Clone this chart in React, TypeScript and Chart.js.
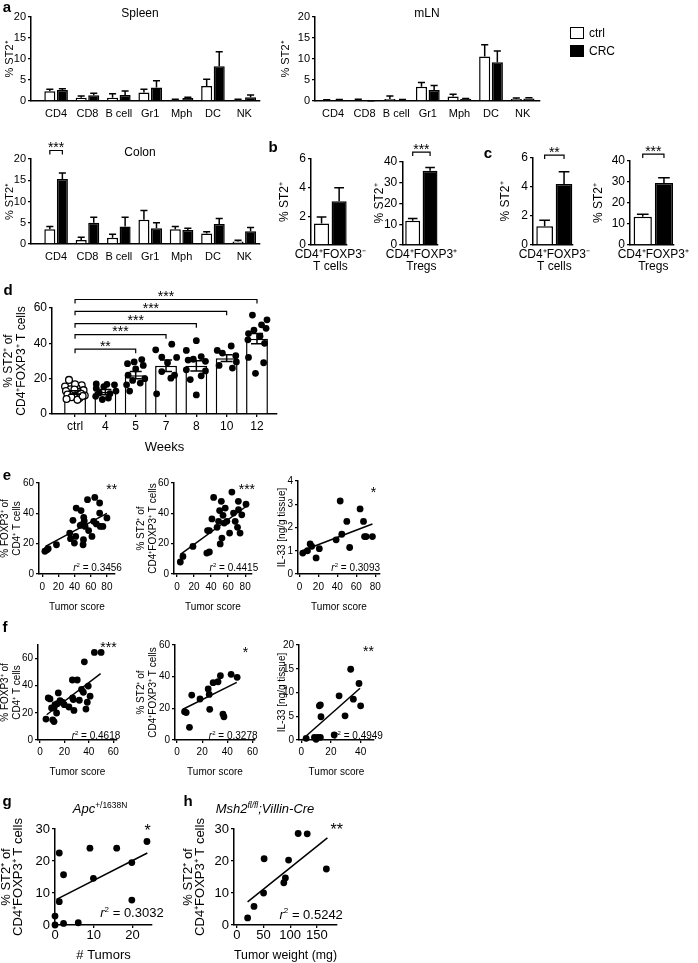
import React, { useEffect, useRef } from 'react';
import { Chart, registerables } from 'chart.js';

Chart.register(...registerables);

const FONT = '"Liberation Sans", Arial, Helvetica, sans-serif';
Chart.defaults.font.family = FONT;
Chart.defaults.font.size = 11;
Chart.defaults.color = '#000';

// ---------------- data ----------------
const cellTypes = ['CD4', 'CD8', 'B cell', 'Gr1', 'Mph', 'DC', 'NK'];

const spleenCtrl = [2.3, 0.8, 0.8, 2.0, 0.3, 3.6, 0.3];
const spleenCtrlErr = [0.5, 0.4, 0.9, 0.8, 0.1, 1.6, 0.1];
const spleenCRC = [2.6, 1.35, 1.4, 3.2, 0.7, 8.3, 0.9];
const spleenCRCErr = [0.3, 0.5, 1.0, 1.6, 0.2, 3.4, 0.5];

const mlnCtrl = [0.2, 0.25, 0.5, 3.4, 1.1, 10.6, 0.5];
const mlnCtrlErr = [0.1, 0.15, 0.7, 1.0, 0.5, 2.8, 0.2];
const mlnCRC = [0.25, 0.05, 0.25, 2.6, 0.5, 9.2, 0.6];
const mlnCRCErr = [0.1, 0.02, 0.1, 1.1, 0.1, 2.7, 0.15];

const colonCtrl = [3.5, 0.95, 1.5, 5.7, 3.5, 2.5, 0.6];
const colonCtrlErr = [0.6, 0.65, 0.8, 2.2, 0.6, 0.4, 0.3];
const colonCRC = [15.3, 5.0, 4.1, 3.7, 3.3, 4.7, 3.0];
const colonCRCErr = [1.4, 1.3, 2.2, 1.3, 0.4, 1.3, 0.9];

const bTconv = [1.5, 3.05];
const bTconvErr = [0.45, 0.95];
const bTreg = [11.7, 35.8];
const bTregErr = [1.1, 1.5];
const cTconv = [1.3, 4.2];
const cTconvErr = [0.4, 0.85];
const cTreg = [13.4, 29.5];
const cTregErr = [1.2, 2.5];

const weekLabels = ['ctrl', '4', '5', '7', '8', '10', '12'];
const weekMean = [12.2, 12.4, 22.0, 27.3, 27.3, 31.6, 42.6];
const weekSem = [1.0, 1.5, 2.0, 3.3, 2.9, 1.9, 2.9];
const ptsCtrl = [19.3, 16.3, 15.5, 14.8, 14, 13.5, 13, 12.5, 12, 11.5, 11, 10.5, 10, 9.5, 9, 8.5, 8, 16.8, 13.8, 10.2];
const dxCtrl = [-0.2, 0.22, -0.33, 0.05, -0.15, 0.28, -0.3, 0.1, -0.05, 0.2, -0.25, 0.32, 0.0, -0.12, 0.15, -0.28, 0.08, 0.0, -0.02, 0.25];
const ptsW4 = [17, 16.8, 16.5, 15.5, 14.5, 13, 12, 11.5, 10, 9, 8.2];
const dxW4 = [-0.3, 0.05, 0.3, -0.05, -0.3, 0.35, -0.2, 0.15, -0.32, 0.1, -0.1];
const ptsW5 = [30.8, 29.5, 28.5, 27.5, 25.5, 22, 20, 19, 17.5, 16.5, 13];
const dxW5 = [0.2, -0.05, -0.27, 0.25, 0.0, -0.25, 0.3, -0.1, 0.15, -0.3, -0.2];
const ptsW7 = [39.5, 36.3, 32.2, 32, 29, 24, 22, 20.3, 11.4];
const dxW7 = [0.19, -0.34, -0.14, 0.35, 0.05, -0.14, 0.28, 0.16, -0.31];
const ptsW8 = [41.5, 36, 32.5, 31, 30.5, 29.8, 25, 24.4, 21.6, 19.5, 10.8];
const dxW8 = [0, -0.33, 0.16, -0.1, -0.27, 0.3, -0.33, 0.3, 0.16, -0.2, 0];
const ptsW10 = [38.5, 36, 34.5, 33, 29.5, 27.5, 26];
const dxW10 = [0.15, -0.31, -0.14, 0.3, 0.32, -0.25, 0.19];
const ptsW12 = [56, 53.3, 50.5, 48.5, 47.5, 45.5, 44, 42, 40, 32, 29, 23];
const dxW12 = [-0.15, 0.33, 0.15, 0.3, -0.1, -0.28, 0.1, -0.3, 0.25, -0.28, 0.22, -0.05];

const e1X = [3.3, 6, 7.4, 17.6, 34, 35, 38, 39.8, 41.4, 42, 48, 47, 49, 50.5, 51, 51.3, 52, 53, 56, 57.4, 61.5, 63.6, 65, 67, 71, 71, 71.8, 75, 80];
const e1Y = [15, 16, 16.7, 19.3, 27, 23.3, 35.4, 20.4, 24.8, 43.5, 41.8, 32, 32.5, 19.3, 22.6, 37.4, 35, 31.4, 49, 28.6, 24.8, 34.7, 50.5, 33, 46.8, 40.2, 31.4, 31.4, 37];
const e1Fit = [4, 18.2, 80, 40];
const e2X = [3.9, 7, 18.7, 35, 35.9, 38, 38, 41, 43, 47, 48.8, 50, 50.7, 52, 52.7, 54, 55.4, 56.6, 58.5, 61.7, 64.4, 66.3, 68.3, 71, 72, 72.2, 74, 76, 81];
const e2Y = [7.9, 11.6, 18.2, 13.8, 28.6, 14.5, 28.6, 36.3, 50.5, 30.8, 34.7, 41.8, 19.8, 47.9, 23.7, 38.7, 33.6, 43.5, 34.7, 27, 54, 40.2, 34.7, 30.8, 47.9, 42.4, 27, 39, 46];
const e2Fit = [4, 13, 81, 44.5];
const e3X = [3.5, 8.5, 11.3, 13, 17.6, 21, 38.7, 43, 44.7, 50, 53, 64, 67.6, 68.7, 70.4, 77];
const e3Y = [0.9, 1.0, 1.29, 1.19, 0.69, 1.09, 1.47, 3.14, 1.71, 2.26, 1.14, 2.8, 2.26, 1.61, 1.61, 1.61];
const e3Fit = [3, 1.0, 77, 2.15];

const f1X = [4.9, 6.8, 8.2, 9.5, 10.4, 11.5, 11.5, 12.3, 13.6, 14.2, 15, 16.4, 18.3, 19.9, 23.7, 26.5, 26.7, 27.3, 27.8, 30.5, 32.2, 34, 35.5, 36.3, 37.6, 38.7, 39.5, 41, 44.5, 50];
const f1Y = [15.4, 31, 30.3, 23.6, 14.9, 13.6, 23.6, 26, 19.9, 26.8, 34.7, 29, 27.8, 26, 24.3, 44.2, 31, 29.8, 21.8, 44.2, 29.3, 37.2, 35.2, 57.6, 22.8, 27.8, 39.7, 32.3, 64.5, 64.5];
const f1Fit = [5.5, 18.6, 49.6, 48.9];
const f2X = [6, 7.3, 9.9, 11.7, 18.3, 24.8, 25.6, 26, 28.7, 32.6, 34.5, 36.5, 37.3, 43, 47.8];
const f2Y = [17.9, 17.3, 8, 28.4, 25.9, 32.2, 28.8, 19.4, 36.2, 36.8, 40.6, 16.4, 14.7, 41.5, 39.6];
const f2Fit = [4.7, 19.4, 47.5, 36.4];
const f3X = [3.3, 8.9, 10, 11.1, 12.2, 12.9, 13.3, 12.9, 22.2, 25.5, 29.5, 33.3, 35.1, 38.9, 40];
const f3Y = [0.35, 0.56, 0.14, 0.56, 7.2, 7.4, 4.9, 0.56, 1.05, 9.3, 5.1, 14.9, 8.6, 11.9, 7.2];
const f3Fit = [3.3, 0.84, 39.6, 10.9];

const gX = [0, 0, 1.1, 1.1, 2.2, 2.2, 6, 9, 9.9, 15.9, 19.8, 19.8, 23.7];
const gY = [2.8, 0, 22.5, 7.3, 15.7, 0.5, 0.7, 24, 14.6, 24, 19.5, 7.8, 26.1];
const gFit = [0.4, 8, 23.8, 22.5];
const hX = [20, 32, 50, 51, 88, 91, 97, 115, 132, 168];
const hY = [2.2, 5.8, 10, 20.7, 13.2, 14.7, 20.3, 28.6, 28.5, 17.5];
const hFit = [20, 7.2, 170, 27.2];

// ---------------- helpers ----------------
type Seg = { t: string; italic?: boolean; sup?: boolean };
type Note = { x: number; y: number; parts: Seg[]; align: 'left' | 'right' | 'center'; size: number };
type Bracket = { from: [number, number]; to: [number, number]; y: number; label: string };

const PT = 30;
const PR = 26;

const bars = (vals: number[]) => vals.map((y, i) => ({ x: i, y }));
const pts = (xs: number[], ys: number[]) => xs.map((x, i) => ({ x, y: ys[i] }));
const jitter = (g: number, ys: number[], dx: number[]) => ys.map((y, i) => ({ x: g + dx[i], y }));

function drawRich(ctx: CanvasRenderingContext2D, segs: Seg[], x: number, y: number, align: string, size: number) {
  const fontFor = (s: Seg) => `${s.italic ? 'italic ' : ''}${s.sup ? Math.round(size * 0.62) : size}px ${FONT}`;
  let total = 0;
  for (const s of segs) {
    ctx.font = fontFor(s);
    total += ctx.measureText(s.t).width;
  }
  let cx = align === 'right' ? x - total : align === 'center' ? x - total / 2 : x;
  ctx.textAlign = 'left';
  ctx.textBaseline = 'alphabetic';
  for (const s of segs) {
    ctx.font = fontFor(s);
    ctx.fillText(s.t, cx, s.sup ? y - size * 0.42 : y);
    cx += ctx.measureText(s.t).width;
  }
}

const errorBarPlugin = {
  id: 'errbars',
  afterDatasetsDraw(chart: any) {
    const ys = chart.scales.y;
    const ctx = chart.ctx;
    chart.data.datasets.forEach((ds: any, di: number) => {
      if (!ds.errors) return;
      const meta = chart.getDatasetMeta(di);
      ctx.save();
      ctx.strokeStyle = '#000';
      ctx.lineWidth = 1.5;
      meta.data.forEach((el: any, i: number) => {
        const v = ds.data[i].y;
        const e = ds.errors[i];
        const x = el.x;
        const cap = ds.errorCap ?? el.width * 0.32;
        const yt = ys.getPixelForValue(v + e);
        const yb = ys.getPixelForValue(ds.errorBoth ? v - e : v);
        ctx.beginPath();
        ctx.moveTo(x, yb);
        ctx.lineTo(x, yt);
        ctx.moveTo(x - cap, yt);
        ctx.lineTo(x + cap, yt);
        if (ds.errorBoth) {
          ctx.moveTo(x - cap, yb);
          ctx.lineTo(x + cap, yb);
        }
        ctx.stroke();
      });
      ctx.restore();
    });
  },
};

function annotPlugin(p: any) {
  return {
    id: 'annot',
    afterDraw(chart: any) {
      const ctx = chart.ctx;
      const xs = chart.scales.x;
      const ys = chart.scales.y;
      ctx.save();
      ctx.fillStyle = '#000';
      ctx.strokeStyle = '#000';
      ctx.lineWidth = 1.2;
      for (const b of (p.brackets ?? []) as Bracket[]) {
        const e1 = chart.getDatasetMeta(b.from[0]).data[b.from[1]];
        const e2 = chart.getDatasetMeta(b.to[0]).data[b.to[1]];
        const y = ys.getPixelForValue(b.y);
        ctx.beginPath();
        ctx.moveTo(e1.x, y + 4);
        ctx.lineTo(e1.x, y);
        ctx.lineTo(e2.x, y);
        ctx.lineTo(e2.x, y + 4);
        ctx.stroke();
        drawRich(ctx, [{ t: b.label }], (e1.x + e2.x) / 2, y + 1.5, 'center', 14);
      }
      for (const n of (p.notes ?? []) as Note[]) {
        drawRich(ctx, n.parts, xs.getPixelForValue(n.x), ys.getPixelForValue(n.y), n.align, n.size);
      }
      ctx.restore();
    },
  };
}

function geometry(p: any) {
  const multi = Array.isArray(p.yTitle) && p.yTitle.length > 1;
  const yLHpx = multi ? p.yTitleGap : 1.2 * p.fs;
  const left = Math.round(p.yTitleX - yLHpx / 2);
  const top = p.T - PT;
  const xtSize = p.xTitleSize ?? p.fs;
  const XH = p.xTitle ? Math.round(p.xTitleY + 0.6 * xtSize - p.B) : p.xh;
  return {
    left,
    top,
    YW: p.L - left,
    XH,
    yLH: yLHpx / p.fs,
    width: Math.round(p.R - left + PR),
    height: Math.round(PT + p.B - p.T + XH),
  };
}

function makeConfig(p: any, g: any) {
  const tickFont = { family: FONT, size: p.fs, lineHeight: 1.0 };
  return {
    type: p.kind,
    data: { datasets: p.datasets },
    options: {
      responsive: false,
      maintainAspectRatio: false,
      animation: false,
      devicePixelRatio: 1,
      events: [],
      layout: { padding: { top: PT, right: PR, left: 0, bottom: 0 } },
      plugins: { legend: { display: false }, tooltip: { enabled: false }, title: { display: false } },
      scales: {
        x: {
          type: 'linear',
          position: 'bottom',
          min: p.xMin,
          max: p.xMax,
          offset: false,
          afterBuildTicks: (s: any) => {
            s.ticks = p.xTicks.map((v: number) => ({ value: v }));
          },
          afterFit: (s: any) => {
            s.height = g.XH;
          },
          ticks: {
            autoSkip: false,
            maxRotation: 0,
            minRotation: 0,
            padding: p.xPad,
            font: tickFont,
            color: '#000',
            callback: (v: number) => (p.xTickText ? p.xTickText(v) : String(v)),
          },
          grid: { display: true, drawOnChartArea: false, drawTicks: p.xTickMarks, tickLength: 3, color: '#000', lineWidth: 1.3, offset: false },
          border: { display: true, color: '#000', width: 1.5 },
          title: {
            display: !!p.xTitle,
            text: p.xTitle ?? '',
            color: '#000',
            font: { family: FONT, size: p.xTitleSize ?? p.fs, lineHeight: 1.2 },
            padding: 0,
          },
        },
        y: {
          type: 'linear',
          position: 'left',
          min: p.yMin,
          max: p.yMax,
          afterBuildTicks: (s: any) => {
            s.ticks = p.yTicks.map((v: number) => ({ value: v }));
          },
          afterFit: (s: any) => {
            s.width = g.YW;
          },
          ticks: { padding: 2, font: tickFont, color: '#000', callback: (v: number) => String(v) },
          grid: { display: true, drawOnChartArea: false, drawTicks: true, tickLength: 3, color: '#000', lineWidth: 1.3 },
          border: { display: true, color: '#000', width: 1.5 },
          title: {
            display: !!p.yTitle,
            text: p.yTitle ?? '',
            color: '#000',
            font: { family: FONT, size: p.fs, lineHeight: g.yLH },
            padding: 0,
          },
        },
      },
    },
    plugins: [errorBarPlugin, annotPlugin(p)],
  };
}

function Panel({ spec }: { spec: any }) {
  const ref = useRef<HTMLCanvasElement>(null);
  const g = geometry(spec);
  useEffect(() => {
    const chart = new Chart(ref.current as HTMLCanvasElement, makeConfig(spec, g) as any);
    return () => chart.destroy();
  }, []);
  return (
    <canvas
      ref={ref}
      width={g.width}
      height={g.height}
      style={{ position: 'absolute', left: g.left, top: g.top, width: g.width, height: g.height }}
    />
  );
}

// ---------------- panel specs ----------------
const groupDatasets = (ctrl: number[], ctrlErr: number[], crc: number[], crcErr: number[]) => [
  { label: 'ctrl', data: bars(ctrl), errors: ctrlErr, backgroundColor: '#fff', borderColor: '#000', borderWidth: 1.5, categoryPercentage: 0.8, barPercentage: 0.88 },
  { label: 'CRC', data: bars(crc), errors: crcErr, backgroundColor: '#000', borderColor: '#000', borderWidth: 1.5, categoryPercentage: 0.8, barPercentage: 0.88 },
];

const groupBase = {
  kind: 'bar',
  yMin: 0,
  yMax: 20,
  yTicks: [0, 5, 10, 15, 20],
  fs: 11,
  yTitle: '% ST2⁺',
  xTicks: [0, 1, 2, 3, 4, 5, 6],
  xTickText: (v: number) => cellTypes[v] ?? '',
  xTickMarks: false,
  xPad: 7,
  xh: 24,
};

const spleenSpec = {
  ...groupBase, key: 'spleen', L: 31, R: 260, T: 17, B: 101, xMin: -0.8, xMax: 6.5, yTitleX: 10,
  datasets: groupDatasets(spleenCtrl, spleenCtrlErr, spleenCRC, spleenCRCErr),
};
const mlnSpec = {
  ...groupBase, key: 'mln', L: 315, R: 540, T: 17, B: 101, xMin: -0.57, xMax: 6.55, yTitleX: 286,
  datasets: groupDatasets(mlnCtrl, mlnCtrlErr, mlnCRC, mlnCRCErr),
};
const colonSpec = {
  ...groupBase, key: 'colon', L: 31, R: 260, T: 159, B: 244, xMin: -0.8, xMax: 6.5, yTitleX: 10,
  datasets: groupDatasets(colonCtrl, colonCtrlErr, colonCRC, colonCRCErr),
  brackets: [{ from: [0, 0], to: [1, 0], y: 22, label: '***' }],
};

const pairDataset = (vals: number[], errs: number[]) => [
  { data: bars(vals), errors: errs, backgroundColor: ['#fff', '#000'], borderColor: '#000', borderWidth: 1.5, categoryPercentage: 1, barPercentage: 0.86 },
];
const pairBase = {
  kind: 'bar', yMin: 0, fs: 12, yTitle: '% ST2⁺', xTicks: [0.5], xTickMarks: false, xPad: 4, xh: 34, xMin: -0.6, xMax: 1.44,
};
const tconvLabel = () => ['CD4⁺FOXP3⁻', 'T cells'];
const tregLabel = () => ['CD4⁺FOXP3⁺', 'Tregs'];

const b1Spec = { ...pairBase, key: 'b1', L: 311, R: 356, T: 159, B: 245, yMax: 6, yTicks: [0, 2, 4, 6], yTitleX: 284, xTickText: tconvLabel, datasets: pairDataset(bTconv, bTconvErr) };
const b2Spec = {
  ...pairBase, key: 'b2', L: 400, R: 446, T: 162, B: 245, yMax: 40, yTicks: [0, 10, 20, 30, 40], yTitleX: 377, xTickText: tregLabel,
  datasets: pairDataset(bTreg, bTregErr), brackets: [{ from: [0, 0], to: [0, 1], y: 44.8, label: '***' }],
};
const c1Spec = {
  ...pairBase, key: 'c1', L: 533, R: 580, T: 158, B: 245, yMax: 6, yTicks: [0, 2, 4, 6], yTitleX: 505, xTickText: tconvLabel,
  datasets: pairDataset(cTconv, cTconvErr), brackets: [{ from: [0, 0], to: [0, 1], y: 6.2, label: '**' }],
};
const c2Spec = {
  ...pairBase, key: 'c2', L: 630, R: 679, T: 161, B: 245, yMax: 40, yTicks: [0, 10, 20, 30, 40], yTitleX: 598, xTickText: tregLabel,
  datasets: pairDataset(cTreg, cTregErr), brackets: [{ from: [0, 0], to: [0, 1], y: 43.3, label: '***' }],
};

const dotStyle = { type: 'scatter', pointRadius: 3.4, backgroundColor: '#000', borderColor: '#000', borderWidth: 0, clip: false, order: 1 };
const dSpec = {
  key: 'd', kind: 'bar', L: 52, R: 277, T: 308, B: 414, xMin: -0.76, xMax: 6.66, yMin: 0, yMax: 60, yTicks: [0, 20, 40, 60],
  fs: 12, yTitle: ['% ST2⁺ of', 'CD4⁺FOXP3⁺ T cells'], yTitleX: 8, yTitleGap: 13, xTitle: 'Weeks', xTitleY: 447, xTitleSize: 13,
  xTicks: [0, 1, 2, 3, 4, 5, 6], xTickText: (v: number) => weekLabels[v] ?? '', xTickMarks: true, xPad: 4,
  datasets: [
    { type: 'bar', data: bars(weekMean), errors: weekSem, errorBoth: true, errorCap: 6, backgroundColor: '#fff', borderColor: '#000', borderWidth: 1.5, barPercentage: 0.72, categoryPercentage: 1, order: 5 },
    { ...dotStyle, data: jitter(0, ptsCtrl, dxCtrl), backgroundColor: '#fff', borderWidth: 1.3 },
    { ...dotStyle, data: jitter(1, ptsW4, dxW4) },
    { ...dotStyle, data: jitter(2, ptsW5, dxW5) },
    { ...dotStyle, data: jitter(3, ptsW7, dxW7) },
    { ...dotStyle, data: jitter(4, ptsW8, dxW8) },
    { ...dotStyle, data: jitter(5, ptsW10, dxW10) },
    { ...dotStyle, data: jitter(6, ptsW12, dxW12) },
  ],
  brackets: [
    { from: [0, 0], to: [0, 6], y: 64.8, label: '***' },
    { from: [0, 0], to: [0, 5], y: 58.1, label: '***' },
    { from: [0, 0], to: [0, 4], y: 51.1, label: '***' },
    { from: [0, 0], to: [0, 3], y: 44.9, label: '***' },
    { from: [0, 0], to: [0, 2], y: 36.7, label: '**' },
  ],
};

const r2 = (txt: string) => [{ t: 'r', italic: true }, { t: '2', sup: true }, { t: ' = ' + txt }];

function scatterSpec(o: any) {
  return {
    kind: 'scatter', yMin: 0, xTickMarks: true,
    datasets: [
      { ...dotStyle, data: pts(o.xs, o.ys) },
      { type: 'line', data: [{ x: o.fit[0], y: o.fit[1] }, { x: o.fit[2], y: o.fit[3] }], borderColor: '#000', borderWidth: 1.5, pointRadius: 0, showLine: true, fill: false, clip: false, order: 2 },
    ],
    notes: [
      { x: o.r2At[0], y: o.r2At[1], parts: r2(o.r2), align: 'right', size: o.r2Size },
      { x: o.starAt[0], y: o.starAt[1], parts: [{ t: o.stars }], align: 'center', size: o.starSize },
    ],
    ...o,
  };
}

const eBase = { fs: 10, T: 483, B: 574, yMax: 60, yTicks: [0, 20, 40, 60], xTicks: [0, 20, 40, 60, 80], xTitle: 'Tumor score', xTitleY: 607, xPad: 5, yTitleGap: 12, r2Size: 10, starSize: 14 };
const e1Spec = scatterSpec({ ...eBase, key: 'e1', L: 39, R: 115, xMin: -4, xMax: 90, yTitle: ['% FOXP3⁺ of', 'CD4⁺ T cells'], yTitleX: 5, xs: e1X, ys: e1Y, fit: e1Fit, r2: '0.3456', r2At: [98.5, 2], stars: '**', starAt: [86, 53] });
const e2Spec = scatterSpec({ ...eBase, key: 'e2', L: 174, R: 252, xMin: -3.5, xMax: 88, yTitle: ['% ST2⁺ of', 'CD4⁺FOXP3⁺ T cells'], yTitleX: 141, xs: e2X, ys: e2Y, fit: e2Fit, r2: '0.4415', r2At: [95.3, 2], stars: '***', starAt: [82, 53] });
const e3Spec = scatterSpec({ ...eBase, key: 'e3', L: 298, R: 380, T: 481, xMin: -1.5, xMax: 85, yMax: 4, yTicks: [0, 1, 2, 3, 4], yTitle: 'IL-33 [ng/g tissue]', yTitleX: 282, xs: e3X, ys: e3Y, fit: e3Fit, r2: '0.3093', r2At: [85, 0.13], stars: '*', starAt: [78, 3.33] });

const fBase = { fs: 10, T: 645, B: 740, xTitle: 'Tumor score', xTitleY: 772, xPad: 4, yTitleGap: 12, r2Size: 10, starSize: 14 };
const f1Spec = scatterSpec({ ...fBase, key: 'f1', L: 38, R: 117, xMin: -1.6, xMax: 63, yMax: 70, yTicks: [0, 20, 40, 60], xTicks: [0, 20, 40, 60], yTitle: ['% FOXP3⁺ of', 'CD4⁺ T cells'], yTitleX: 5, xs: f1X, ys: f1Y, fit: f1Fit, r2: '0.4618', r2At: [65.7, 0.7], stars: '***', starAt: [56, 65] });
const f2Spec = scatterSpec({ ...fBase, key: 'f2', L: 175, R: 255, xMin: -1.6, xMax: 62, yMax: 60, yTicks: [0, 20, 40, 60], xTicks: [0, 20, 40, 60], yTitle: ['% ST2⁺ of', 'CD4⁺FOXP3⁺ T cells'], yTitleX: 141, xs: f2X, ys: f2Y, fit: f2Fit, r2: '0.3278', r2At: [64, 0.7], stars: '*', starAt: [54.5, 52.7] });
const f3Spec = scatterSpec({ ...fBase, key: 'f3', L: 299, R: 374, xMin: -1.5, xMax: 49, yMax: 20, yTicks: [0, 5, 10, 15, 20], xTicks: [0, 20, 40], yTitle: 'IL-33 [ng/g tissue]', yTitleX: 282, xs: f3X, ys: f3Y, fit: f3Fit, r2: '0.4949', r2At: [55, 0.2], stars: '**', starAt: [45.3, 17.6] });

const ghBase = { fs: 13, T: 829, B: 925, yMax: 30, yTicks: [0, 10, 20, 30], xTitleY: 955, xPad: 1, yTitleGap: 11.5, yTitle: ['% ST2⁺ of', 'CD4⁺FOXP3⁺ T cells'], r2Size: 13, starSize: 16 };
const gSpec = scatterSpec({ ...ghBase, key: 'g', L: 55, R: 152, xMin: 0, xMax: 25, xTicks: [0, 10, 20], xTitle: '# Tumors', yTitleX: 7, xs: gX, ys: gY, fit: gFit, r2: '0.3032', r2At: [28, 2.5], stars: '*', starAt: [23.9, 27.7] });
const hSpec = scatterSpec({ ...ghBase, key: 'h', L: 234, R: 337, xMin: -5.6, xMax: 188, xTicks: [0, 50, 100, 150], xTitle: 'Tumor weight (mg)', yTitleX: 189, xs: hX, ys: hY, fit: hFit, r2: '0.5242', r2At: [199, 1.9], stars: '**', starAt: [187.6, 28] });

const allSpecs = [spleenSpec, mlnSpec, colonSpec, b1Spec, b2Spec, c1Spec, c2Spec, dSpec, e1Spec, e2Spec, e3Spec, f1Spec, f2Spec, f3Spec, gSpec, hSpec];

// ---------------- text overlays ----------------
function Txt({ x, y, size = 12, bold = false, italic = false, anchor = 'center', children }: any) {
  return (
    <div
      style={{
        position: 'absolute',
        left: x,
        top: y,
        transform: anchor === 'center' ? 'translate(-50%, -50%)' : 'translate(0, -50%)',
        fontFamily: FONT,
        fontSize: size,
        fontWeight: bold ? 'bold' : 'normal',
        fontStyle: italic ? 'italic' : 'normal',
        whiteSpace: 'nowrap',
        lineHeight: 1,
        color: '#000',
      }}
    >
      {children}
    </div>
  );
}

const supStyle = { fontSize: '0.65em', verticalAlign: '0.55em', lineHeight: 0 };

export default function App() {
  return (
    <div style={{ position: 'absolute', left: 0, top: 0, width: 698, height: 963, overflow: 'hidden', background: '#fff' }}>
      {allSpecs.map((s) => (
        <Panel key={s.key} spec={s} />
      ))}
      <Txt x={7} y={6} size={15} bold>a</Txt>
      <Txt x={140} y={13} size={12}>Spleen</Txt>
      <Txt x={427} y={13} size={12}>mLN</Txt>
      <Txt x={140} y={152} size={12}>Colon</Txt>
      <div style={{ position: 'absolute', left: 570, top: 27, width: 14, height: 12, border: '1.5px solid #000', boxSizing: 'border-box', background: '#fff' }} />
      <div style={{ position: 'absolute', left: 570, top: 45, width: 14, height: 12, background: '#000' }} />
      <Txt x={589} y={33} size={12} anchor="left">ctrl</Txt>
      <Txt x={589} y={51} size={12} anchor="left">CRC</Txt>
      <Txt x={273} y={146} size={15} bold>b</Txt>
      <Txt x={488} y={152} size={15} bold>c</Txt>
      <Txt x={8} y={289} size={15} bold>d</Txt>
      <Txt x={7} y={474} size={15} bold>e</Txt>
      <Txt x={5} y={626} size={15} bold>f</Txt>
      <Txt x={7} y={800} size={15} bold>g</Txt>
      <Txt x={188} y={800} size={15} bold>h</Txt>
      <Txt x={100} y={808} size={13}>
        <i>Apc</i>
        <span style={supStyle}>+/1638N</span>
      </Txt>
      <Txt x={265} y={808} size={13} italic>
        Msh2<span style={supStyle}>fl/fl</span>;Villin-Cre
      </Txt>
    </div>
  );
}
